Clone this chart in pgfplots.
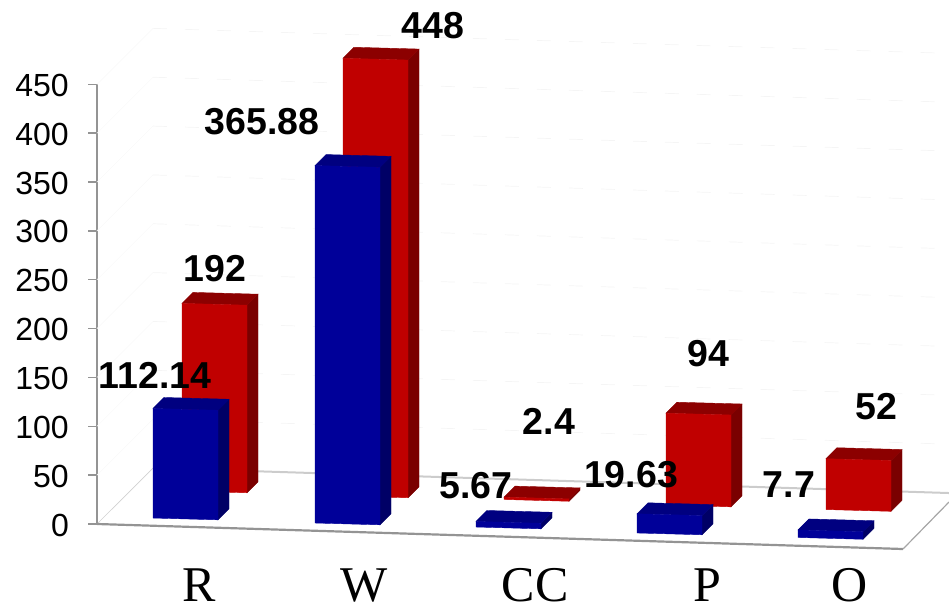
\documentclass[border=0pt]{standalone}
\usepackage{pgfplots}
\pgfplotsset{compat=1.18}
\usepackage{fontspec}
\setmainfont{Liberation Sans}
\newfontfamily\serifcat{Liberation Serif}

\definecolor{redfront}{HTML}{C00000}
\definecolor{redtop}{HTML}{8C0000}
\definecolor{redside}{HTML}{7A0000}
\definecolor{bluefront}{HTML}{000099}
\definecolor{bluetop}{HTML}{000080}
\definecolor{blueside}{HTML}{000066}

% One extruded column: left edge, floor offset, value, three face colours
\newcommand{\column}[6]{%
  \pgfmathsetmacro\xl{#1}%
  \pgfmathsetmacro\xr{#1+65}%
  \pgfmathsetmacro\xlb{#1+11}%
  \pgfmathsetmacro\xrb{#1+76}%
  \pgfmathsetmacro\yl{#2}%
  \pgfmathsetmacro\yr{#2-1.84}%
  \pgfmathsetmacro\ylt{#2+#3}%
  \pgfmathsetmacro\yrt{#2+#3-1.84}%
  \pgfmathsetmacro\ylbt{#2+#3+11.26}%
  \pgfmathsetmacro\yrbt{#2+#3+9.42}%
  \pgfmathsetmacro\yrb{#2+9.42}%
  \addplot[fill=#6,draw=#6,line width=0.4pt] coordinates {(\xr,\yr) (\xr,\yrt) (\xrb,\yrbt) (\xrb,\yrb)} --cycle;
  \addplot[fill=#5,draw=#5,line width=0.4pt] coordinates {(\xl,\ylt) (\xlb,\ylbt) (\xrb,\yrbt) (\xr,\yrt)} --cycle;
  \addplot[fill=#4,draw=#4,line width=0.4pt] coordinates {(\xl,\yl) (\xl,\ylt) (\xr,\yrt) (\xr,\yr)} --cycle;
}
\newcommand{\redcolumn}[3]{\column{#1}{#2}{#3}{redfront}{redtop}{redside}}
\newcommand{\bluecolumn}[3]{\column{#1}{#2}{#3}{bluefront}{bluetop}{blueside}}

% Faint wall grid line at a given level
\newcommand{\wallgrid}[1]{%
  \pgfmathsetmacro\ya{57.3+#1}%
  \pgfmathsetmacro\yb{31.7+#1}%
  \addplot[black!4,line width=0.7pt,dash pattern=on 14pt off 18pt] coordinates {(153,\ya) (949,\yb)};
  \addplot[black!2.5,line width=0.6pt] coordinates {(97,#1) (153,\ya)};
}
\newcommand{\vlabel}[3]{\node[font=\fontsize{37.5}{37.5}\bfseries\selectfont,inner sep=0pt,anchor=center,text=black] at (axis cs:#1,#2) {#3};}

\begin{document}
\begin{tikzpicture}
\useasboundingbox (0,0) rectangle (949pt,604pt);
\begin{axis}[
  at={(97pt,80pt)}, anchor=south west,
  scale only axis, width=852pt, height=439.65pt,
  xmin=97, xmax=949, ymin=0, ymax=450,
  clip=false,
  axis y line*=left, axis x line*=bottom,
  axis line style={-},
  x axis line style={draw=none},
  y axis line style={draw=black!42,line width=1.8pt},
  ytick={0,50,...,450},
  xtick={199,364,535,707,850},
  xticklabels={R,W,CC,P,O},
  tick align=outside,
  major tick length=9pt,
  ytick style={draw=black!42,line width=1.4pt},
  xtick style={draw=none},
  /pgf/number format/assume math mode=true,
  yticklabel style={font=\fontsize{32}{32}\selectfont,anchor=east,xshift=-19pt,yshift=-1pt,inner sep=0pt},
  xticklabel style={font=\serifcat\fontsize{50}{50}\selectfont,anchor=base,yshift=-68pt,inner sep=0pt},
]
  % Walls and floor
  \wallgrid{50}\wallgrid{100}\wallgrid{150}\wallgrid{200}\wallgrid{250}
  \wallgrid{300}\wallgrid{350}\wallgrid{400}\wallgrid{450}
  \addplot[black!18,line width=0.7pt] coordinates {(97,0) (153,57.3)};
  \addplot[black!20,line width=2pt] coordinates {(153,57.3) (949,31.7)};
  \addplot[black!42,line width=2.2pt] coordinates {(97,0) (903,-25.6)};
  \addplot[black!35,line width=1.2pt] coordinates {(903,-25.6) (949,22.5)};

  % Columns, rear series first within each group
  \redcolumn{182}{33.8}{192}
  \bluecolumn{153}{6.1}{112.14}
  \redcolumn{343}{28.7}{448}
  \bluecolumn{315}{1}{365.88}
  \redcolumn{504}{25.1}{2.4}
  \bluecolumn{476}{-3.1}{5.67}
  \redcolumn{666}{19.4}{94}
  \bluecolumn{637}{-9.2}{19.63}
  \redcolumn{826}{14.8}{52}
  \bluecolumn{798}{-13.8}{7.7}

  % Value labels
  \vlabel{215}{261}{192}
  \vlabel{155}{152.5}{112.14}
  \vlabel{433}{509.7}{448}
  \vlabel{262}{411.5}{365.88}
  \vlabel{549}{105.4}{2.4}
  \vlabel{476}{38.9}{5.67}
  \vlabel{708}{174}{94}
  \vlabel{631}{50.2}{19.63}
  \vlabel{876}{119.8}{52}
  \vlabel{789}{39.9}{7.7}
\end{axis}
\end{tikzpicture}
\end{document}
